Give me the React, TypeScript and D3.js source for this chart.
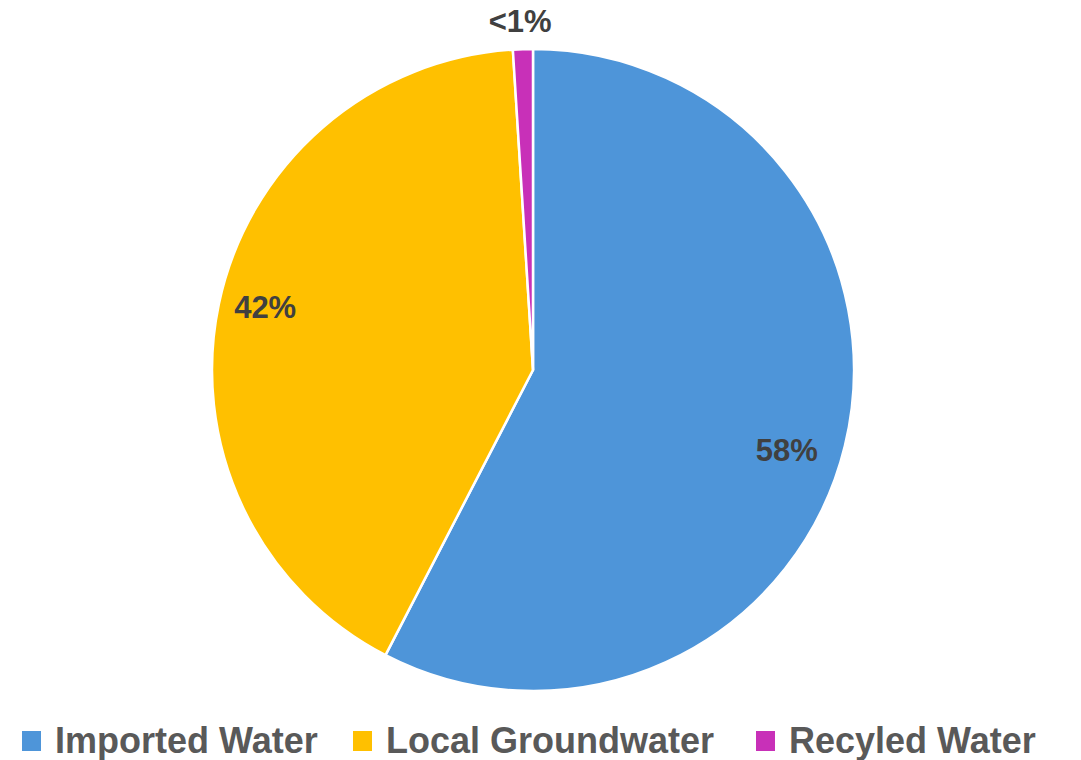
import React from "react";
import * as d3 from "d3";

const categories = ["Imported Water", "Local Groundwater", "Recyled Water"];
const values = [57.6, 41.4, 1.0];
const labels = ["58%", "42%", "<1%"];
const colors = ["#4E95D9", "#FFC000", "#C830B8"];

const W = 1081;
const H = 760;
const cx = 533;
const cy = 370;
const R = 321;
const labelRadius = [0.83, 0.857, 1.087];
const labelAngleShift = [4, 1.3, -0.3];

export default function App() {
  const pie = d3.pie<number>().sort(null).value((d) => d);
  const arcs = pie(values);
  const arc = d3.arc<d3.PieArcDatum<number>>().innerRadius(0).outerRadius(R);

  const legendX = [22, 353, 756];
  const font = "'Liberation Sans', Arial, sans-serif";

  return (
    <svg width={W} height={H} style={{ position: "absolute", left: 0, top: 0 }}>
      <rect width={W} height={H} fill="#fff" />
      <g transform={`translate(${cx},${cy})`}>
        {arcs.map((a, i) => (
          <path key={i} d={arc(a) || ""} fill={colors[i]} stroke="#fff" strokeWidth={2.5} strokeLinejoin="round" />
        ))}
        {arcs.map((a, i) => {
          const mid = (a.startAngle + a.endAngle) / 2 + (labelAngleShift[i] * Math.PI) / 180;
          const r = R * labelRadius[i];
          const x = r * Math.sin(mid);
          const y = -r * Math.cos(mid);
          return (
            <text
              key={i}
              x={x}
              y={y}
              textAnchor="middle"
              dominantBaseline="central"
              fontFamily={font}
              fontWeight="bold"
              fontSize={31}
              fill="#404040"
            >
              {labels[i]}
            </text>
          );
        })}
      </g>
      {categories.map((c, i) => (
        <g key={c}>
          <rect x={legendX[i]} y={731} width={19} height={20} fill={colors[i]} />
          <text
            x={legendX[i] + 33}
            y={753}
            fontFamily={font}
            fontWeight="bold"
            fontSize={36}
            fill="#595959"
          >
            {c}
          </text>
        </g>
      ))}
    </svg>
  );
}
